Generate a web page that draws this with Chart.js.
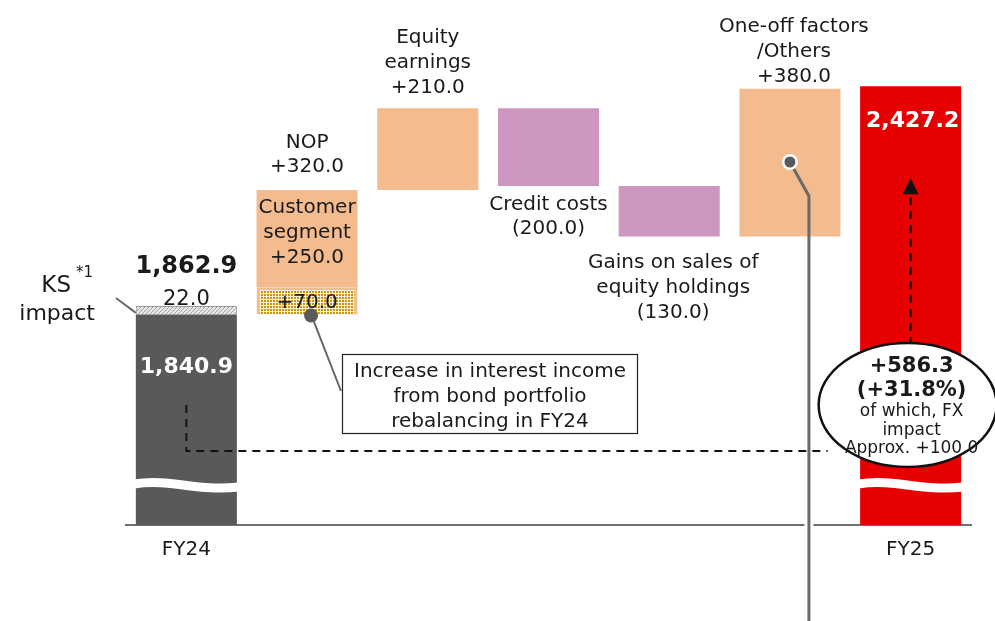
<!DOCTYPE html>
<html>
<head>
<meta charset="utf-8">
<script src="https://cdn.jsdelivr.net/npm/chart.js@4.4.1/dist/chart.umd.min.js"></script>
<style>
  body { margin: 0; background: #fff; }
  #chart { display: block; }
</style>
</head>
<body>
<canvas id="chart" width="995" height="621"></canvas>
<script>
// values
const categories = ['FY24', 'NOP', 'Equity earnings', 'Credit costs', 'Gains on sales of equity holdings', 'One-off factors/Others', 'FY25'];
const tickLabels = ['FY24', '', '', '', '', '', 'FY25'];
const fy24Base = 1840.9;      // FY24 excl. KS impact
const ksImpact = 22.0;
const fy24Total = 1862.9;
const bondRebalance = 70.0;   // part of NOP
const customerSegment = 250.0;
const steps = [320.0, 210.0, -200.0, -130.0, 380.0]; // NOP, equity earnings, credit costs, gains on sales, one-off
const fy25Total = 2427.2;
const fy25Change = 586.3;
const fy25ChangePct = 31.8;
const fxImpact = 100.0;
const yMin = 1300;
const yMax = 2600;

// running totals for the floating bars
const ranges = [];
let level = fy24Base;
for (let i = 0; i < steps.length; i++) {
  ranges.push([level, level + steps[i]]);
  level += steps[i];
}

const increases = [null, null, ranges[1], null, null, ranges[4], null];
const decreases = [null, null, null, ranges[2], ranges[3], null, null];

function fmt(v) {
  return v.toLocaleString('en-US', { minimumFractionDigits: 1, maximumFractionDigits: 1 });
}

// fill patterns
function hatchPattern() {
  const c = document.createElement('canvas');
  c.width = 4; c.height = 4;
  const g = c.getContext('2d');
  g.fillStyle = '#e6e6e6';
  g.fillRect(0, 0, 4, 4);
  g.strokeStyle = '#a5a5a5';
  g.lineWidth = 1;
  g.beginPath();
  g.moveTo(0, 4); g.lineTo(4, 0);
  g.stroke();
  return g.createPattern(c, 'repeat');
}
function dotPattern() {
  const c = document.createElement('canvas');
  c.width = 3; c.height = 3;
  const g = c.getContext('2d');
  g.fillStyle = '#fbf0cf';
  g.fillRect(0, 0, 3, 3);
  g.fillStyle = '#c99516';
  g.fillRect(0, 0, 2, 2);
  return g.createPattern(c, 'repeat');
}

const FONT = '"DejaVu Sans", Verdana, sans-serif';
const INK = '#1a1a1a';

function text(ctx, lines, x, y, size, opts = {}) {
  ctx.save();
  ctx.font = (opts.bold ? 'bold ' : '') + size + 'px ' + FONT;
  ctx.fillStyle = opts.color || INK;
  ctx.textAlign = opts.align || 'center';
  ctx.textBaseline = 'middle';
  const gap = opts.gap || 25;
  lines.forEach((t, i) => ctx.fillText(t, x, y + i * gap));
  ctx.restore();
}

const overlay = {
  id: 'overlay',
  afterDatasetsDraw(chart) {
    const ctx = chart.ctx;
    const x = chart.scales.x;
    const y = chart.scales.y;
    const cx = i => x.getPixelForValue(i);
    const half = (cx(1) - cx(0)) * 0.837 / 2;
    const base = y.bottom;

    // axis break waves
    [0, 6].forEach(i => {
      const l = cx(i) - half - 2, r = cx(i) + half + 2, wy = base - 39;
      ctx.save();
      ctx.strokeStyle = '#fff';
      ctx.lineWidth = 9;
      ctx.beginPath();
      ctx.moveTo(l, wy - 2);
      ctx.bezierCurveTo(l + (r - l) * 0.35, wy - 8, l + (r - l) * 0.6, wy + 6, r, wy + 1);
      ctx.stroke();
      ctx.restore();
    });

    // FY24 labels
    const yTot = y.getPixelForValue(fy24Total);
    const yBase = y.getPixelForValue(fy24Base);
    text(ctx, [fmt(fy24Total)], cx(0), yTot - 39, 24, { bold: true });
    text(ctx, [fmt(ksImpact)], cx(0), yTot - 6, 21);
    text(ctx, [fmt(fy24Base)], cx(0), yBase + 53, 22, { bold: true, color: '#fff' });
    text(ctx, ['KS'], 71, 286, 23, { align: 'right' });
    text(ctx, ['*1'], 76, 273, 15, { align: 'left' });
    text(ctx, ['impact'], 95, 314, 22, { align: 'right' });
    ctx.save();
    ctx.strokeStyle = '#6a6a6a';
    ctx.lineWidth = 2;
    ctx.beginPath();
    ctx.moveTo(116, 298);
    ctx.lineTo(cx(0) - half, yTot + 7);
    ctx.stroke();
    ctx.restore();

    // NOP
    const nopTop = y.getPixelForValue(ranges[0][1]);
    text(ctx, ['NOP', '+' + fmt(steps[0])], cx(1), nopTop - 47, 20, { gap: 24 });
    text(ctx, ['Customer', 'segment', '+' + fmt(customerSegment)], cx(1), nopTop + 18, 20);
    const bondMid = y.getPixelForValue(fy24Base + bondRebalance / 2);
    text(ctx, ['+' + fmt(bondRebalance)], cx(1), bondMid + 2, 20);

    // equity earnings
    const eqTop = y.getPixelForValue(ranges[1][1]);
    text(ctx, ['Equity', 'earnings', '+' + fmt(steps[1])], cx(2), eqTop - 70, 20);

    // credit costs
    const ccBot = y.getPixelForValue(ranges[2][1]);
    text(ctx, ['Credit costs', '(' + fmt(-steps[2]) + ')'], cx(3), ccBot + 19, 20, { gap: 24 });

    // gains on sales
    const gsBot = y.getPixelForValue(ranges[3][1]);
    text(ctx, ['Gains on sales of', 'equity holdings', '(' + fmt(-steps[3]) + ')'], cx(4) + 4, gsBot + 26, 20);

    // one-off
    const ooTop = y.getPixelForValue(ranges[4][1]);
    text(ctx, ['One-off factors', '/Others', '+' + fmt(steps[4])], cx(5) + 4, ooTop - 62, 20);

    // FY25 total
    const fy25Top = y.getPixelForValue(fy25Total);
    text(ctx, [fmt(fy25Total)], cx(6) + 2, fy25Top + 35, 22, { bold: true, color: '#fff' });

    // leader from the +70 part to the note box
    ctx.save();
    ctx.strokeStyle = '#666';
    ctx.lineWidth = 2;
    ctx.beginPath();
    ctx.moveTo(cx(1) + 4, yBase);
    ctx.lineTo(341, 391);
    ctx.stroke();
    ctx.fillStyle = '#5a5a5a';
    ctx.beginPath();
    ctx.arc(cx(1) + 4, yBase + 1, 7, 0, Math.PI * 2);
    ctx.fill();
    ctx.restore();

    // note box
    ctx.save();
    ctx.fillStyle = '#fff';
    ctx.fillRect(342, 354, 295, 79);
    ctx.strokeStyle = '#222';
    ctx.lineWidth = 1.2;
    ctx.strokeRect(342.5, 354.5, 295, 79);
    ctx.restore();
    text(ctx, ['Increase in interest income', 'from bond portfolio', 'rebalancing in FY24'], 490, 372, 20);

    // leader from one-off bar down through the axis
    const lx = cx(5) + 19;
    ctx.save();
    ctx.strokeStyle = '#fff';
    ctx.lineWidth = 9;
    ctx.beginPath();
    ctx.moveTo(lx, base - 8);
    ctx.lineTo(lx, base + 8);
    ctx.stroke();
    ctx.strokeStyle = '#6a6a6a';
    ctx.lineWidth = 3;
    ctx.beginPath();
    ctx.moveTo(cx(5), 162);
    ctx.lineTo(lx, 196);
    ctx.lineTo(lx, 625);
    ctx.stroke();
    ctx.fillStyle = '#fff';
    ctx.beginPath();
    ctx.arc(cx(5), 162, 8, 0, Math.PI * 2);
    ctx.fill();
    ctx.fillStyle = '#5a5a5a';
    ctx.beginPath();
    ctx.arc(cx(5), 162, 5.5, 0, Math.PI * 2);
    ctx.fill();
    ctx.restore();

    // dashed comparison lines
    const ex = cx(6) - 3, ey = base - 120;
    ctx.save();
    ctx.strokeStyle = '#111';
    ctx.lineWidth = 2;
    ctx.setLineDash([8, 6]);
    ctx.beginPath();
    ctx.moveTo(cx(0), base - 120);
    ctx.lineTo(cx(0), base - 74);
    ctx.lineTo(ex - 80, base - 74);
    ctx.stroke();
    ctx.beginPath();
    ctx.moveTo(cx(6), ey - 60);
    ctx.lineTo(cx(6), fy25Top + 107);
    ctx.stroke();
    ctx.setLineDash([]);
    ctx.fillStyle = '#111';
    ctx.beginPath();
    ctx.moveTo(cx(6), fy25Top + 92);
    ctx.lineTo(cx(6) - 8, fy25Top + 108);
    ctx.lineTo(cx(6) + 8, fy25Top + 108);
    ctx.closePath();
    ctx.fill();

    // ellipse callout
    ctx.fillStyle = '#fff';
    ctx.strokeStyle = '#111';
    ctx.lineWidth = 2.5;
    ctx.beginPath();
    ctx.ellipse(ex, ey, 89, 62, 0, 0, Math.PI * 2);
    ctx.fill();
    ctx.stroke();
    ctx.restore();
    text(ctx, ['+' + fmt(fy25Change), '(+' + fy25ChangePct.toFixed(1) + '%)'], cx(6) + 1, ey - 38, 21, { bold: true, gap: 24 });
    text(ctx, ['of which, FX', 'impact', 'Approx. +' + fmt(fxImpact)], cx(6) + 1, ey + 7, 17, { gap: 18.5 });
  }
};

new Chart(document.getElementById('chart'), {
  type: 'bar',
  data: {
    labels: categories,
    datasets: [
      { label: 'FY24', data: [[yMin, fy24Base], null, null, null, null, null, null], backgroundColor: '#595959' },
      { label: 'KS impact', data: [[fy24Base, fy24Total], null, null, null, null, null, null], backgroundColor: hatchPattern(), borderColor: '#9a9a9a', borderWidth: 1 },
      { label: 'Bond rebalancing', data: [null, [fy24Base, fy24Base + bondRebalance], null, null, null, null, null], backgroundColor: dotPattern(), borderColor: '#f3bb8e', borderWidth: 3 },
      { label: 'Customer segment', data: [null, [fy24Base + bondRebalance, fy24Base + bondRebalance + customerSegment], null, null, null, null, null], backgroundColor: '#f3bb8e' },
      { label: 'Increase', data: increases, backgroundColor: '#f3bb8e' },
      { label: 'Decrease', data: decreases, backgroundColor: '#cc96be' },
      { label: 'FY25', data: [null, null, null, null, null, null, [yMin, fy25Total]], backgroundColor: '#e60000' }
    ]
  },
  options: {
    responsive: false,
    animation: false,
    datasets: { bar: { grouped: false, categoryPercentage: 1, barPercentage: 0.837 } },
    layout: { padding: { left: 126, right: 24, top: 19, bottom: 46 } },
    plugins: { legend: { display: false }, tooltip: { enabled: false } },
    scales: {
      x: {
        grid: { display: false, drawTicks: false },
        border: { display: true, color: '#6f6f6f', width: 2 },
        ticks: {
          autoSkip: false, maxRotation: 0, padding: 13, color: INK,
          font: { family: 'DejaVu Sans', size: 20 },
          callback: (v, i) => tickLabels[i]
        }
      },
      y: { display: false, min: yMin, max: yMax }
    }
  },
  plugins: [overlay]
});
</script>
</body>
</html>
